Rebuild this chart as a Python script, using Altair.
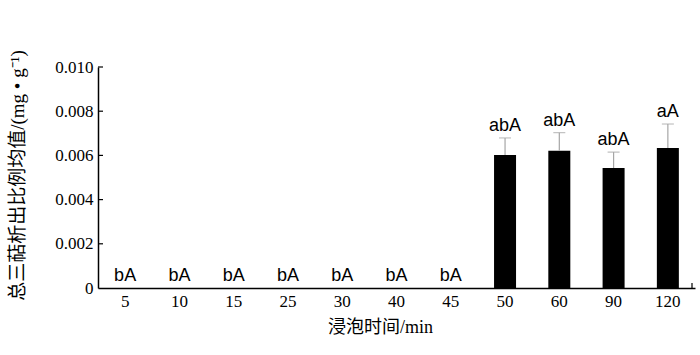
import altair as alt
import pandas as pd

times = ["5", "10", "15", "25", "30", "40", "45", "50", "60", "90", "120"]
means = [0, 0, 0, 0, 0, 0, 0, 0.00602, 0.00621, 0.00543, 0.00633]
errs = [0, 0, 0, 0, 0, 0, 0, 0.00077, 0.00082, 0.00072, 0.00109]
letters = ["bA", "bA", "bA", "bA", "bA", "bA", "bA", "abA", "abA", "abA", "aA"]
yticks = [0.002, 0.004, 0.006, 0.008, 0.010]

df = pd.DataFrame({"t": times, "m": means, "e": errs, "lab": letters})
df["up"] = df["m"] + df["e"]
tick_df = pd.DataFrame({"v": yticks})

W, H = 597, 221
serif = "Liberation Serif"
mixed = "'Liberation Serif', 'Noto Sans CJK SC'"

x = alt.X("t:N", sort=times, scale=alt.Scale(paddingInner=0.6, paddingOuter=0.3),
          axis=alt.Axis(title="浸泡时间/min", labelAngle=0, ticks=False,
                        labelFont=serif, labelFontSize=17, labelColor="black",
                        labelPadding=5, titleFont=mixed, titleFontSize=18,
                        titleFontWeight="normal", titleColor="black",
                        titlePadding=9, titleX=282, titleAnchor="middle",
                        domainColor="black", domainWidth=1.5))
yscale = alt.Scale(domain=[0, 0.010], nice=False)
y = alt.Y("m:Q", scale=yscale,
          axis=alt.Axis(title="总三萜析出比例均值/(mg • g⁻¹)", values=[0] + yticks,
                        labelExpr="datum.value == 0 ? '0' : format(datum.value, '.3f')",
                        ticks=False, grid=False, labelFont=serif, labelFontSize=17,
                        labelColor="black", labelPadding=5, titleFont=mixed,
                        titleFontSize=19, titleFontWeight="normal", titleColor="black",
                        titleAngle=-90, titleX=-81, titleY=108, titleAlign="center",
                        titleBaseline="middle", domainColor="black", domainWidth=1.5))

bars = alt.Chart(df).mark_bar(color="black", size=22).encode(x=x, y=y)

ebase = alt.Chart(df).transform_filter("datum.e > 0")
err_rule = ebase.mark_rule(color="#a6a6a6", strokeWidth=1.2).encode(
    x=alt.X("t:N", sort=times), y=alt.Y("m:Q", scale=yscale), y2="up:Q")
err_cap = ebase.mark_tick(color="#a6a6a6", thickness=1.2, size=12, orient="horizontal").encode(
    x=alt.X("t:N", sort=times), y=alt.Y("up:Q", scale=yscale))

labels = alt.Chart(df).mark_text(font="Liberation Sans", fontSize=18, baseline="bottom",
                                 dy=-3, color="black").encode(
    x=alt.X("t:N", sort=times), y=alt.Y("up:Q", scale=yscale), text="lab:N")

yt = alt.Chart(tick_df).mark_rule(color="black", strokeWidth=1.2).encode(
    y=alt.Y("v:Q", scale=yscale), x=alt.value(0), x2=alt.value(5))

end_tick = alt.Chart(tick_df.head(1)).mark_rule(color="black", strokeWidth=1.2).encode(
    x=alt.value(W - 3), y=alt.value(H), y2=alt.value(H - 5))

chart = alt.layer(bars, err_rule, err_cap, labels, yt, end_tick).properties(
    width=W, height=H,
    autosize=alt.AutoSizeParams(type="none"),
    padding={"left": 98, "top": 67, "right": 5, "bottom": 67},
).configure(background="white").configure_view(strokeWidth=0, stroke="transparent")

chart.save("out.html", embed_options={"renderer": "svg", "actions": False})
